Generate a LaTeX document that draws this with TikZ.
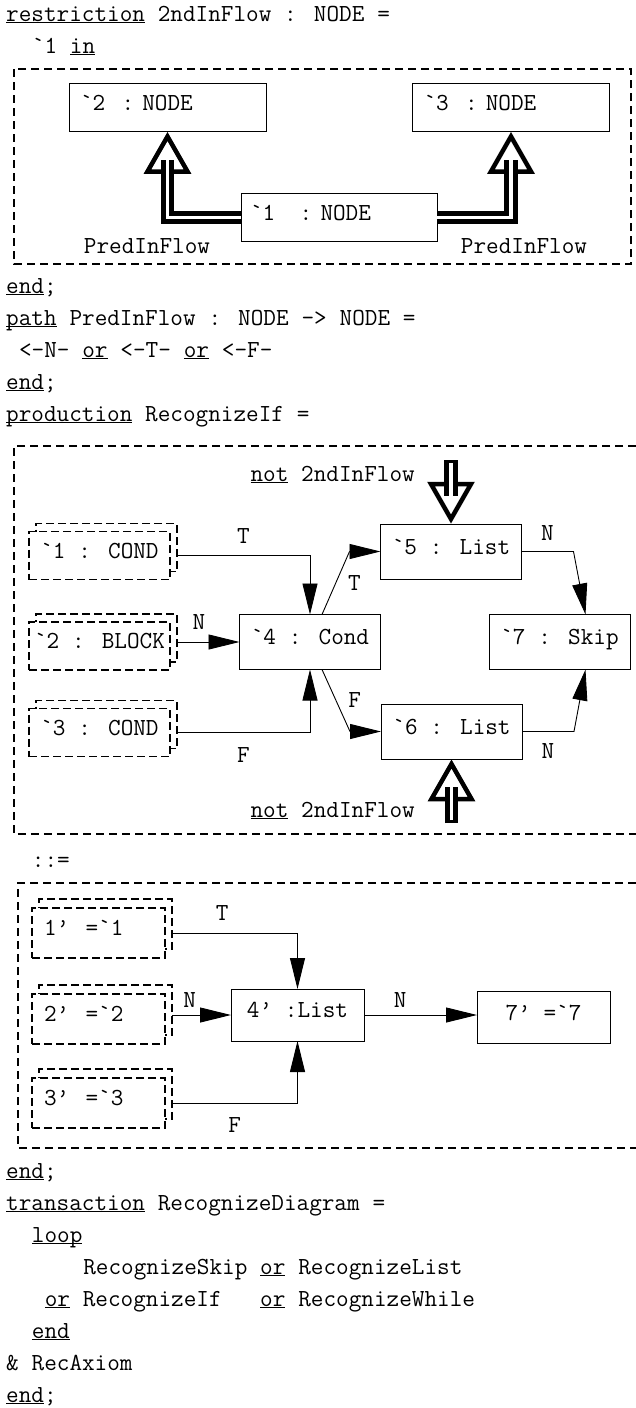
\documentclass[tikz,border=0pt]{standalone}
\usepackage{fontspec}
\usepackage{tikz}
\usetikzlibrary{calc, arrows.meta, positioning, backgrounds}

% keywords are underlined, the rule sits just under the baseline
\newcommand{\kw}[1]{\underline{\smash{#1}}}
\newcommand{\tick}{\symbol{96}}
% typewriter text with a space as wide as one character
\newcommand{\codefont}{\ttfamily\fontsize{24.5}{30}\selectfont
    \fontdimen2\font=12.86pt\relax
    \fontdimen3\font=0pt\relax
    \fontdimen4\font=0pt\relax}

\begin{document}
\begin{tikzpicture}[
        x=1pt, y=-1pt,
        font=\codefont,
        code/.style={anchor=base west, inner sep=0pt},
        lbl/.style={inner sep=2pt},
        frame/.style={line width=1.6pt, dash pattern=on 8pt off 5pt},
        nbox/.style={draw, line width=1pt, outer sep=0pt, text width=175pt, inner xsep=11pt, minimum height=48pt, align=left, text height=1.5ex, text depth=.25ex},
        cbox/.style={draw, line width=1pt, outer sep=0pt, minimum width=141pt, minimum height=55pt, text height=1.5ex, text depth=.25ex},
        dashbox/.style={draw, fill=white, line width=1.6pt, dash pattern=on 8pt off 4pt, outer sep=0pt, text height=1.5ex, text depth=.25ex},
        sbox/.style={dashbox, minimum width=141pt, minimum height=48pt},
        rbox/.style={dashbox, text width=109pt, inner xsep=12pt, align=left, minimum height=50pt},
        lbox/.style={draw, line width=1pt, outer sep=0pt, minimum width=133pt, minimum height=52pt, text height=1.5ex, text depth=.25ex},
        arrow/.style={-{Triangle[length=31pt, width=15pt]}, line width=0.9pt},
        dline/.style={line width=13.5pt, postaction={draw=white, line width=3.5pt, shorten <=#1}},
        dline/.default=0pt,
        head/.style={line width=4.5pt, fill=white, line join=miter}
    ]
    \useasboundingbox (0,0) rectangle (636,1408);

    % restriction 2ndInFlow
    \node[code] (hd1) at (6,21) {\kw{restriction} 2ndInFlow : NODE =};
    \node[code] (hd2) at (6,53) {~~\tick1 \kw{in}};
    \draw[frame] (14,69) rectangle (631,264);
    \node[nbox] (rn2) at (167.5,107.5) {\tick2~~:~NODE};
    \node[nbox] (rn3) at (511,107.5) {\tick3~~:~NODE};
    \node[nbox, inner xsep=9pt, text width=178pt] (rn1) at (339,217.5) {\tick1~~~:~NODE};
    \draw[head] ($(rn2.south)+(0,5)$) -- ++(-20,35) -- ++(40,0) -- cycle;
    \draw[head] ($(rn3.south)+(0,5)$) -- ++(-20,35) -- ++(40,0) -- cycle;
    \draw[dline, shorten >=28pt] (rn1.west) -| (rn2.south);
    \draw[dline, shorten >=28pt] (rn1.east) -| (rn3.south);
    \node[code, anchor=base] (pf1) at (147,253) {PredInFlow};
    \node[code, anchor=base] (pf2) at (524,253) {PredInFlow};
    \node[code] (hd3) at (6,293) {\kw{end};};

    % path PredInFlow
    \node[code] (hd4) at (6,325) {\kw{path} PredInFlow : NODE -> NODE =};
    \node[code] (hd5) at (6,357) {~<-N- \kw{or} <-T- \kw{or} <-F-};
    \node[code] (hd6) at (6,389) {\kw{end};};

    % production RecognizeIf, left side
    \node[code] (hd7) at (6,421) {\kw{production} RecognizeIf =};
    \draw[frame] (636,446) -| (14,834) -- (636,834);
    \node[sbox] (c1) at (99.5,555.5) {\tick1 : COND};
    \node[sbox] (b2) at (99.5,646) {\tick2 : BLOCK};
    \node[sbox] (c3) at (99.5,732.5) {\tick3 : COND};
    \node[cbox] (d4) at (310,642) {\tick4 : Cond};
    \node[cbox] (d5) at (451,551.5) {\tick5 : List};
    \node[cbox] (d6) at (451.5,731.5) {\tick6 : List};
    \node[cbox] (d7) at (559.5,642) {\tick7 : Skip};
    \begin{scope}[on background layer]
        \foreach \n in {c1,b2,c3}
            \node[sbox] (sh\n) at ($(\n)+(7,-8)$) {};
    \end{scope}

    \draw[arrow] (shc1.east |- c1) -| node[lbl, pos=0.25, above=10pt] (t1) {T} (d4.north);
    \draw[arrow] (shb2.east |- d4.west) -- node[lbl, pos=0.35, above=10pt] (n2) {N} (d4.west);
    \draw[arrow] (shc3.east |- c3) -| node[lbl, pos=0.25, below=13pt] (f3) {F} (d4.south);
    \draw[arrow] ($(d4.north)+(12,0)$) -- node[lbl, right=10pt] (t4) {T} ($(d5.west)+(-31,0)$) -- (d5.west);
    \draw[arrow] ($(d4.south)+(12,0)$) -- node[lbl, right=10pt] (f5) {F} ($(d6.west)+(-31,0)$) -- (d6.west);
    \draw[arrow] (d5.east) -- node[lbl, above=9pt] (n6) {N} ++(52,0) -- ($(d7.north)+(26,0)$);
    \draw[arrow] (d6.east) -- node[lbl, below=10pt] (n7) {N} ++(52,0) -- ($(d7.south)+(26,0)$);

    % not 2ndInFlow, above and below
    \coordinate (top5) at (451,460);
    \coordinate (bot6) at (451.5,823);
    \draw[head] ($(d5.north)+(0,-5)$) -- ++(-20,-35) -- ++(40,0) -- cycle;
    \draw[dline=3pt, shorten >=28pt] (top5) -- (d5.north);
    \draw[head] ($(d6.south)+(0,5)$) -- ++(-20,35) -- ++(40,0) -- cycle;
    \draw[dline=3pt, shorten >=28pt] (bot6) -- (d6.south);
    \node[code, anchor=base east] (nf1) at (415,481) {\kw{not} 2ndInFlow};
    \node[code, anchor=base east] (nf2) at (415,817) {\kw{not} 2ndInFlow};

    % right side
    \node[code] (ce) at (6,867) {~~::=};
    \draw[frame] (636,883) -| (18,1148) -- (636,1148);
    \node[rbox] (r1) at (98.5,933) {1’~~=\tick1};
    \node[rbox] (r2) at (98.5,1019) {2’~~=\tick2};
    \node[rbox] (r3) at (98.5,1103) {3’~~=\tick3};
    \node[lbox] (l4) at (297.5,1015) {4’~:List};
    \node[lbox] (s7) at (543.5,1017.5) {7’~=\tick7};
    \begin{scope}[on background layer]
        \foreach \n in {r1,r2,r3}
            \node[rbox] (sh\n) at ($(\n)+(7,-9)$) {};
    \end{scope}

    \draw[arrow] (shr1.east |- r1) -| node[lbl, pos=0.2, above=10pt] (t8) {T} (l4.north);
    \draw[arrow] (shr2.east |- l4.west) -- node[lbl, pos=0.3, above=5.5pt] (n8) {N} (l4.west);
    \draw[arrow] (shr3.east |- r3) -| node[lbl, pos=0.25, below=12pt] (f8) {F} (l4.south);
    \draw[arrow] (l4.east) -- node[lbl, pos=0.32, above=5pt] (n9) {N} (l4.east -| s7.west);

    % transaction RecognizeDiagram
    \node[code] (ft1) at (6,1178) {\kw{end};};
    \node[code] (ft2) at (6,1210) {\kw{transaction} RecognizeDiagram =};
    \node[code] (ft3) at (6,1242) {~~\kw{loop}};
    \node[code] (ft4) at (6,1274) {~~~~~~RecognizeSkip \kw{or} RecognizeList};
    \node[code] (ft5) at (6,1306) {~~~\kw{or} RecognizeIf~~~\kw{or} RecognizeWhile};
    \node[code] (ft6) at (6,1338) {~~\kw{end}};
    \node[code] (ft7) at (6,1370) {\& RecAxiom};
    \node[code] (ft8) at (6,1402) {\kw{end};};
\end{tikzpicture}
\end{document}
